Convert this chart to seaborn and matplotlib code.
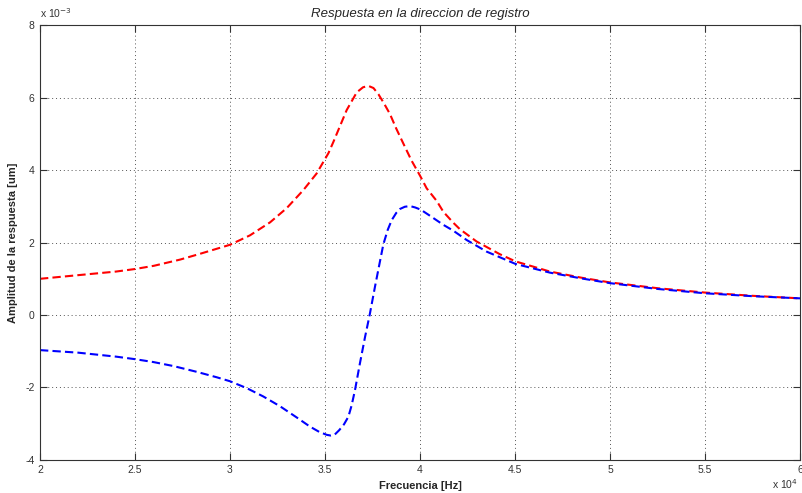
import numpy as np
import pandas as pd
import matplotlib
matplotlib.use("Agg")
import matplotlib.pyplot as plt
from matplotlib.ticker import FixedLocator, FuncFormatter
import seaborn as sns

# Frequency response in the recording direction (frequency in Hz, amplitude in um)
freq_mag_hz = [20000, 22000, 24000, 25000, 26000, 27370, 28420, 30000, 31050, 32110,
               32980, 33860, 34560, 35180, 35440, 36140, 36670, 37000, 37280, 37550,
               37810, 38100, 38420, 38750, 39120, 39550, 40000, 40350, 40880, 41230,
               41750, 42100, 42980, 44200, 45030, 46840, 48500, 50000, 52500, 55000,
               57500, 60000]
magnitude_um = [1.00e-3, 1.10e-3, 1.20e-3, 1.27e-3, 1.36e-3, 1.53e-3, 1.69e-3, 1.94e-3, 2.20e-3, 2.56e-3,
                2.95e-3, 3.45e-3, 3.91e-3, 4.47e-3, 4.78e-3, 5.66e-3, 6.15e-3, 6.29e-3, 6.33e-3, 6.27e-3,
                6.10e-3, 5.85e-3, 5.55e-3, 5.15e-3, 4.74e-3, 4.27e-3, 3.85e-3, 3.50e-3, 3.15e-3, 2.85e-3,
                2.55e-3, 2.37e-3, 2.03e-3, 1.68e-3, 1.48e-3, 1.20e-3, 1.03e-3, 0.90e-3, 0.74e-3, 0.62e-3,
                0.53e-3, 0.46e-3]

freq_real_hz = [20000, 22000, 24000, 25000, 25970, 27020, 28250, 29300, 30000, 30880,
                31750, 32630, 33510, 34200, 34700, 35090, 35300, 35500, 35750, 36000,
                36230, 36400, 36580, 36840, 37110, 37350, 37630, 37900, 38070, 38300,
                38510, 38750, 38950, 39200, 39470, 39750, 40040, 40500, 41230, 41750,
                42460, 43510, 45030, 46840, 48500, 50000, 52500, 55000, 57500, 60000]
real_part_um = [-0.97e-3, -1.04e-3, -1.15e-3, -1.22e-3, -1.30e-3, -1.41e-3, -1.57e-3, -1.72e-3, -1.83e-3, -2.02e-3,
                -2.25e-3, -2.52e-3, -2.83e-3, -3.08e-3, -3.23e-3, -3.31e-3, -3.33e-3, -3.31e-3, -3.18e-3, -3.02e-3,
                -2.81e-3, -2.50e-3, -2.07e-3, -1.33e-3, -0.60e-3, 0.00e-3, 0.78e-3, 1.50e-3, 1.95e-3, 2.35e-3,
                2.62e-3, 2.82e-3, 2.93e-3, 2.99e-3, 3.01e-3, 2.97e-3, 2.91e-3, 2.75e-3, 2.49e-3, 2.33e-3,
                2.07e-3, 1.75e-3, 1.41e-3, 1.17e-3, 1.01e-3, 0.88e-3, 0.72e-3, 0.60e-3, 0.52e-3, 0.46e-3]

x_ticks = [20000, 25000, 30000, 35000, 40000, 45000, 50000, 55000, 60000]
y_ticks = [-4e-3, -2e-3, 0, 2e-3, 4e-3, 6e-3, 8e-3]

mag_df = pd.DataFrame({"freq": freq_mag_hz, "amp": magnitude_um})
real_df = pd.DataFrame({"freq": freq_real_hz, "amp": real_part_um})

sns.set_theme(style="white")
plt.rcParams["font.family"] = ["Liberation Sans", "DejaVu Sans"]

fig = plt.figure(figsize=(8.03, 4.93), dpi=100)
W, H = 803, 493
ax = fig.add_axes([40 / W, 1 - 459.8 / H, 760 / W, (459.8 - 25.4) / H])

dash = (0, (4, 2))
sns.lineplot(data=mag_df, x="freq", y="amp", ax=ax, color="#ff0000",
             linewidth=1.5, linestyle=dash, sort=False, estimator=None)
sns.lineplot(data=real_df, x="freq", y="amp", ax=ax, color="#0000ff",
             linewidth=1.5, linestyle=dash, sort=False, estimator=None)

ax.set_xlim(20000, 60000)
ax.set_ylim(-4e-3, 8e-3)
ax.xaxis.set_major_locator(FixedLocator(x_ticks))
ax.yaxis.set_major_locator(FixedLocator(y_ticks))
ax.xaxis.set_major_formatter(FuncFormatter(lambda v, p: f"{v / 1e4:g}"))
ax.yaxis.set_major_formatter(FuncFormatter(lambda v, p: f"{round(v / 1e-3):d}"))

ax.grid(True, linestyle=(0, (1, 3)), color="#555555", linewidth=0.7)
ax.tick_params(axis="both", which="major", direction="in", length=5, width=0.8,
               colors="#333333", labelsize=7.5, top=True, right=True,
               bottom=True, left=True, pad=4)
for s in ax.spines.values():
    s.set_color("#333333")
    s.set_linewidth(0.8)
    s.set_visible(True)

ax.set_xlabel("Frecuencia [Hz]", fontsize=8, fontweight="bold", labelpad=4)
ax.set_ylabel("Amplitud de la respuesta [um]", fontsize=8, fontweight="bold", labelpad=5)
ax.set_title("Respuesta en la direccion de registro", fontsize=9.5, style="italic", pad=6)

# Exponent annotations for both axes
ax.text(0.0, 1.012, r"x 10$^{-3}$", transform=ax.transAxes, fontsize=7.5,
        ha="left", va="bottom", color="#333333")
fig.text(798 / W, 1 - 477 / H, r"x 10$^{4}$", fontsize=7.5,
         ha="right", va="top", color="#333333")

fig.savefig("out.png", dpi=100)
